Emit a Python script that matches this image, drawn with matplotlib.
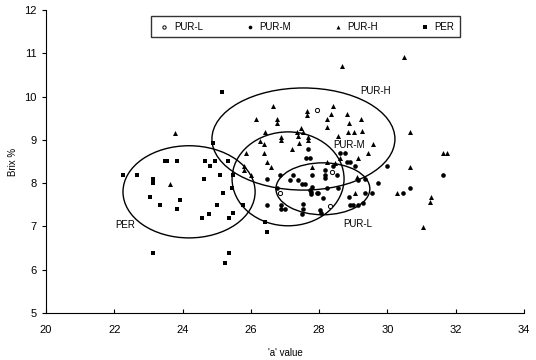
import matplotlib
matplotlib.use("Agg")
import matplotlib.pyplot as plt
from matplotlib.patches import Ellipse

# PUR-L (open circles)
purl_x = [27.94, 26.85, 28.32, 28.38]
purl_y = [9.69, 7.77, 7.47, 8.26]

# PUR-M (filled dots)
purm_x = [27.62, 27.73, 28.61, 28.76, 29.05, 28.41, 28.17, 28.52, 27.23, 27.79,
          28.17, 26.85, 26.47, 27.15, 27.38, 27.50, 27.59, 27.79, 28.17, 27.76,
          27.76, 27.97, 28.11, 28.55, 28.23, 26.77, 28.88, 29.34, 29.55, 28.90,
          28.99, 29.14, 29.29, 26.47, 26.88, 26.88, 27.00, 27.53, 27.53, 27.50,
          28.03, 28.06, 30.66, 27.73, 27.94, 28.82, 28.90, 29.14, 29.34, 29.72,
          29.99, 31.63, 30.46, 27.67]
purm_y = [8.58, 8.58, 8.70, 8.70, 8.40, 8.40, 8.30, 8.19, 8.19, 8.19,
          8.19, 8.19, 8.10, 8.07, 8.07, 7.98, 7.98, 7.91, 8.12, 7.80,
          7.75, 7.77, 7.66, 7.89, 7.89, 7.89, 7.68, 7.77, 7.77, 7.50,
          7.50, 7.50, 7.54, 7.50, 7.50, 7.40, 7.40, 7.52, 7.40, 7.29,
          7.38, 7.31, 7.89, 7.84, 7.77, 8.49, 8.49, 8.07, 8.10, 8.00,
          8.40, 8.19, 7.77, 8.79]

# PUR-H (triangles)
purh_x = [23.78, 23.63, 28.67, 30.49, 26.65, 26.15, 26.77, 26.77, 27.65, 27.65,
          28.41, 28.35, 28.82, 28.23, 28.23, 28.88, 29.23, 30.66, 28.85, 29.02,
          29.26, 27.47, 26.41, 27.35, 27.53, 26.88, 26.88, 27.38, 27.67, 27.67,
          26.39, 27.21, 25.86, 26.39, 25.80, 25.80, 26.00, 29.58, 29.43, 30.66,
          31.63, 31.75, 31.04, 31.28, 31.25, 30.28, 29.05, 28.61, 29.14, 26.59,
          26.47, 26.27, 27.41, 28.55, 28.23, 28.47, 27.79, 29.11]
purh_y = [9.16, 7.98, 10.71, 10.91, 9.78, 9.48, 9.48, 9.39, 9.67, 9.57,
          9.78, 9.60, 9.60, 9.48, 9.30, 9.39, 9.48, 9.18, 9.18, 9.18,
          9.20, 9.27, 9.18, 9.18, 9.18, 9.07, 9.00, 9.09, 9.07, 9.00,
          8.90, 8.79, 8.70, 8.70, 8.40, 8.30, 8.19, 8.90, 8.70, 8.37,
          8.70, 8.70, 6.99, 7.68, 7.56, 7.77, 7.77, 8.58, 8.58, 8.37,
          8.49, 8.97, 8.93, 9.09, 8.49, 8.47, 8.37, 8.14]

# PER (filled squares)
per_x = [23.49, 23.55, 23.84, 22.26, 22.67, 23.13, 23.13, 23.05, 23.92, 23.34,
         23.84, 24.57, 24.77, 24.63, 24.66, 24.95, 24.80, 25.33, 25.10, 25.01,
         25.45, 25.48, 25.77, 25.18, 25.36, 25.48, 23.13, 25.36, 25.24, 25.16,
         24.89, 26.41, 26.47]
per_y = [8.51, 8.51, 8.51, 8.19, 8.19, 8.10, 8.00, 7.68, 7.61, 7.50,
         7.40, 7.20, 7.29, 8.10, 8.51, 8.51, 8.40, 8.51, 8.19, 7.50,
         7.89, 8.19, 7.50, 7.77, 7.20, 7.31, 6.39, 6.39, 6.16, 10.11,
         8.93, 7.10, 6.87]

# group ellipses: name, centre x, centre y, width, height, label x, label y
groups = ["PER", "PUR-H", "PUR-M", "PUR-L"]
ell_cx = [24.19, 27.54, 27.09, 28.11]
ell_cy = [7.80, 9.02, 8.10, 7.87]
ell_w = [3.87, 5.36, 3.28, 2.75]
ell_h = [2.13, 2.36, 2.17, 1.20]
lab_x = [22.02, 29.20, 28.41, 28.70]
lab_y = [7.03, 10.13, 8.88, 7.06]

plt.rcParams["font.family"] = ["Liberation Sans Narrow", "Liberation Sans", "DejaVu Sans"]

fig = plt.figure(figsize=(5.36, 3.6), dpi=100)
ax = fig.add_axes([0.0858, 0.1306, 0.8918, 0.8414])

ax.scatter(purl_x, purl_y, marker="o", s=9, facecolors="white", edgecolors="black",
           linewidths=0.7, label="PUR-L", zorder=3)
ax.scatter(purm_x, purm_y, marker="o", s=11, color="black", linewidths=0, label="PUR-M", zorder=3)
ax.scatter(purh_x, purh_y, marker="^", s=13, color="black", linewidths=0, label="PUR-H", zorder=3)
ax.scatter(per_x, per_y, marker="s", s=10, color="black", linewidths=0, label="PER", zorder=3)

for i in range(len(groups)):
    ax.add_patch(Ellipse((ell_cx[i], ell_cy[i]), ell_w[i], ell_h[i], fill=False,
                         edgecolor="black", linewidth=1.0))
    ax.text(lab_x[i], lab_y[i], groups[i], fontsize=7, va="center", ha="left")

ax.set_xlim(20, 34)
ax.set_ylim(5, 12)
ax.set_xticks(range(20, 35, 2))
ax.set_yticks(range(5, 13))
ax.spines["top"].set_visible(False)
ax.spines["right"].set_visible(False)
ax.tick_params(axis="x", direction="in", length=3, labelsize=8, pad=9)
ax.tick_params(axis="y", direction="out", length=3, labelsize=8)
ax.set_xlabel("'a' value", fontsize=7, labelpad=9)
ax.set_ylabel("Brix %", fontsize=7, labelpad=5)

leg = ax.legend(loc="upper left", bbox_to_anchor=(0.21, 0.995), ncol=4, fontsize=7,
                frameon=True, fancybox=False, edgecolor="black", handletextpad=0.2,
                columnspacing=4.0, borderpad=0.55, markerscale=0.8, handlelength=1.6)
leg.get_frame().set_linewidth(1.0)

fig.savefig("out.png", dpi=100)
